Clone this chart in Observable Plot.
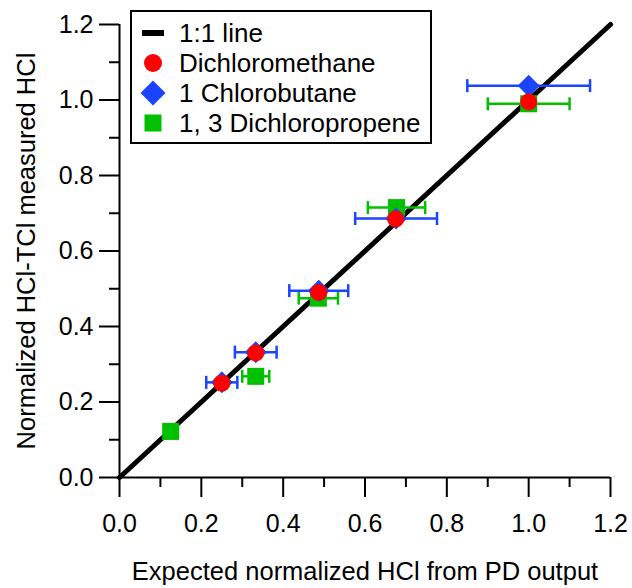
<!DOCTYPE html>
<html><head><meta charset="utf-8">
<script src="https://cdn.jsdelivr.net/npm/d3@7"></script>
<script src="https://cdn.jsdelivr.net/npm/@observablehq/plot@0.6"></script>
<style>
body{margin:0;background:#fff;}
#wrap{position:relative;width:632px;height:588px;font-family:"Liberation Sans",Arial,sans-serif;}
#legend{position:absolute;left:130px;top:10px;width:302px;height:134px;box-sizing:border-box;border:2px solid #000;background:#fff;padding-top:6px;}
.row{display:flex;align-items:center;height:30px;font-size:26px;line-height:30px;color:#000;white-space:nowrap;}
.row svg{margin-left:8px;margin-right:13px;flex:none;}
</style></head><body><div id="wrap"></div>
<script>
// ---- data ----
const xTicks = [0, 0.2, 0.4, 0.6, 0.8, 1.0, 1.2];
const yTicks = [0, 0.2, 0.4, 0.6, 0.8, 1.0, 1.2];
const minorTicks = [0.1, 0.3, 0.5, 0.7, 0.9, 1.1];
const oneToOne = [0, 1.2];

const seriesNames = ["1:1 line", "Dichloromethane", "1 Chlorobutane", "1, 3 Dichloropropene"];

const dcmX = [0.25, 0.333, 0.487, 0.675, 1.0];
const dcmY = [0.25, 0.33, 0.49, 0.685, 0.995];

const cbX = [0.25, 0.333, 0.487, 0.676, 1.0];
const cbY = [0.252, 0.332, 0.495, 0.686, 1.038];
const cbErr = [0.038, 0.051, 0.072, 0.10, 0.15];

const dcpX = [0.125, 0.333, 0.486, 0.677, 1.0];
const dcpY = [0.122, 0.268, 0.475, 0.715, 0.99];
const dcpErr = [0.0125, 0.033, 0.048, 0.07, 0.10];

const xLabel = "Expected normalized HCl from PD output";
const yLabel = "Normalized HCl-TCl measured HCl";

// ---- build ----
const RED = "#ff0000", BLUE = "#1a44ff", GREEN = "#00c000";
const mk = (xs, ys, es) => xs.map((x, i) => ({x, y: ys[i], e: es ? es[i] : 0}));
const dcm = mk(dcmX, dcmY);
const cb = mk(cbX, cbY, cbErr);
const dcp = mk(dcpX, dcpY, dcpErr);
const line = oneToOne.map(v => ({x: v, y: v}));

const capSym = {draw(ctx, size){ const h = Math.sqrt(size)/2; ctx.moveTo(0,-h); ctx.lineTo(0,h); }};
const diamondSym = {draw(ctx, size){ const d = Math.sqrt(size)/2; ctx.moveTo(0,-d); ctx.lineTo(d,0); ctx.lineTo(0,d); ctx.lineTo(-d,0); ctx.closePath(); }};
const squareSym = {draw(ctx, size){ const s = Math.sqrt(size); ctx.rect(-s/2,-s/2,s,s); }};
const rFor = px => px / Math.sqrt(Math.PI);

function errMarks(data, color){
  const lo = data.map(d => ({x: d.x - d.e, y: d.y}));
  const hi = data.map(d => ({x: d.x + d.e, y: d.y}));
  return [
    Plot.ruleY(data, {x1: d => d.x - d.e, x2: d => d.x + d.e, y: "y", stroke: color, strokeWidth: 2.5}),
    Plot.dot(lo.concat(hi), {x: "x", y: "y", symbol: capSym, r: rFor(13), stroke: color, strokeWidth: 2.5, fill: "none"})
  ];
}

const fmt = d3.format(".1f");
const chart = Plot.plot({
  width: 632, height: 588,
  marginLeft: 119, marginRight: 22, marginTop: 24, marginBottom: 111,
  x: {domain: [0, 1.2], label: null},
  y: {domain: [0, 1.2], label: null},
  style: {fontFamily: "'Liberation Sans', Arial, sans-serif", fontSize: "25px", background: "white", color: "black", overflow: "visible"},
  marks: [
    Plot.line(line, {x: "x", y: "y", stroke: "black", strokeWidth: 5}),
    ...errMarks(dcp, GREEN),
    Plot.dot(dcp, {x: "x", y: "y", symbol: squareSym, r: rFor(17), fill: GREEN, stroke: "none"}),
    ...errMarks(cb, BLUE),
    Plot.dot(cb, {x: "x", y: "y", symbol: diamondSym, r: rFor(22), fill: BLUE, stroke: "none"}),
    Plot.dot(dcm, {x: "x", y: "y", r: 8.5, fill: RED, stroke: "none"}),
    Plot.ruleY([0], {strokeWidth: 2}),
    Plot.ruleX([0], {strokeWidth: 2}),
    Plot.axisX(xTicks, {tickSize: 20, tickPadding: 17, tickFormat: fmt, strokeWidth: 2, label: null}),
    Plot.axisX(minorTicks, {tickSize: 10, tickFormat: () => "", strokeWidth: 2, label: null}),
    Plot.axisY(yTicks, {tickSize: 20, tickPadding: 6, tickFormat: fmt, strokeWidth: 2, label: null}),
    Plot.axisY(minorTicks, {tickSize: 10, tickFormat: () => "", strokeWidth: 2, label: null}),
    Plot.text([xLabel], {frameAnchor: "bottom", dy: 94, lineAnchor: "middle", textAnchor: "middle", text: d => d, fontSize: 25.5}),
    Plot.text([yLabel], {frameAnchor: "left", dx: -93, rotate: -90, lineAnchor: "middle", textAnchor: "middle", text: d => d, fontSize: 25.5})
  ]
});
const wrap = document.getElementById("wrap");
wrap.appendChild(chart);

// legend overlay
const legendSyms = [
  `<svg width="26" height="26"><rect x="2" y="10" width="22" height="6" fill="black"/></svg>`,
  `<svg width="26" height="26"><circle cx="13" cy="13" r="9" fill="${RED}"/></svg>`,
  `<svg width="26" height="26"><path d="M13,0.5L25.5,13L13,25.5L0.5,13Z" fill="${BLUE}"/></svg>`,
  `<svg width="26" height="26"><rect x="4.5" y="4.5" width="17" height="17" fill="${GREEN}"/></svg>`
];
const leg = document.createElement("div");
leg.id = "legend";
leg.innerHTML = seriesNames.map((n, i) => `<div class="row">${legendSyms[i]}<span>${n}</span></div>`).join("");
wrap.appendChild(leg);
</script>
</body></html>
